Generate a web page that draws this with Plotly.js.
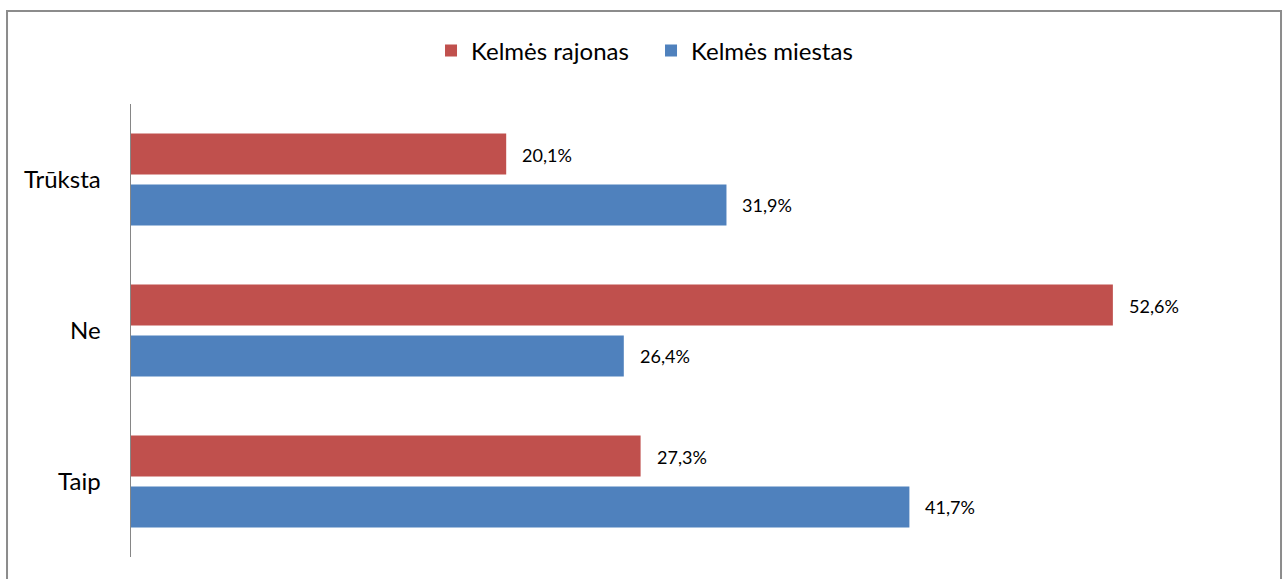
<!DOCTYPE html>
<html>
<head>
<meta charset="utf-8">
<script src="https://cdn.plot.ly/plotly-3.0.1.min.js"></script>
<style>html,body{margin:0;padding:0;background:#fff;}#chart{width:1285px;height:579px;}</style>
</head>
<body>
<div id="chart"></div>
<script>
const categories = ["Taip", "Ne", "Trūksta"];
const rajonasValues = [27.3, 52.6, 20.1];
const miestasValues = [41.7, 26.4, 31.9];
const seriesNames = ["Kelmės rajonas", "Kelmės miestas"];

const fmt = v => v.toFixed(1).replace('.', ',') + '%';
const FONT = "Lato, 'Open Sans', sans-serif";

const traceMiestas = {
  type: 'bar', orientation: 'h', name: seriesNames[1],
  y: categories, x: miestasValues,
  marker: {color: '#4F81BD'},
  hoverinfo: 'x'
};
const traceRajonas = {
  type: 'bar', orientation: 'h', name: seriesNames[0],
  y: categories, x: rajonasValues,
  marker: {color: '#C0504D'},
  hoverinfo: 'x'
};

const annotations = [];
categories.forEach((c, i) => {
  annotations.push({x: rajonasValues[i], y: c, yshift: 25, xshift: 14, text: fmt(rajonasValues[i]),
    showarrow: false, xanchor: 'left', yanchor: 'middle', font: {size: 18, color: '#000', family: FONT}});
  annotations.push({x: miestasValues[i], y: c, yshift: -25, xshift: 14, text: fmt(miestasValues[i]),
    showarrow: false, xanchor: 'left', yanchor: 'middle', font: {size: 18, color: '#000', family: FONT}});
});

const layout = {
  width: 1285, height: 579,
  margin: {l: 131, r: 34, t: 104, b: 22},
  paper_bgcolor: '#fff', plot_bgcolor: '#fff',
  font: {family: FONT, color: '#000'},
  barmode: 'group', bargap: 0.325, bargroupgap: 0.196,
  xaxis: {range: [0, 60], visible: false, fixedrange: true},
  yaxis: {showline: true, linecolor: '#868686', linewidth: 1.5, ticks: '', showgrid: false,
    tickfont: {size: 24, family: FONT, color: '#000'}, ticklabelstandoff: 24, fixedrange: true},
  legend: {orientation: 'h', x: 0.4643, xanchor: 'center', y: 1.117, yanchor: 'middle',
    font: {size: 24, family: FONT, color: '#000'}, traceorder: 'reversed', entrywidth: 175},
  showlegend: true,
  annotations: annotations,
  shapes: [{type: 'rect', xref: 'paper', yref: 'paper', x0: -0.1107, x1: 1.0268, y0: -0.08, y1: 1.2053,
    line: {color: '#8c8c8c', width: 2}, fillcolor: 'rgba(0,0,0,0)', layer: 'below'}]
};

Plotly.newPlot('chart', [traceMiestas, traceRajonas], layout, {displayModeBar: false, staticPlot: true});
</script>
</body>
</html>
